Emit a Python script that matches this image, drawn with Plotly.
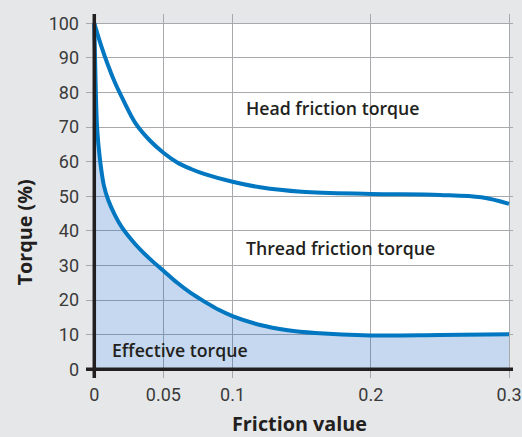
import plotly.graph_objects as go

# Friction value (x) and torque (%) readings
head_x = [0, 0.005, 0.01, 0.015, 0.02, 0.03, 0.04, 0.05, 0.06, 0.07, 0.08, 0.1, 0.12, 0.15, 0.2, 0.25, 0.28, 0.3]
head_y = [100, 93.5, 87.8, 82.8, 78.6, 71.0, 66.2, 62.6, 59.8, 57.9, 56.4, 54.2, 52.6, 51.3, 50.7, 50.4, 49.7, 47.8]

thread_x = [0, 0.001, 0.002, 0.004, 0.007, 0.01, 0.015, 0.02, 0.03, 0.04, 0.05, 0.06, 0.07, 0.08, 0.09, 0.1, 0.12, 0.14, 0.16, 0.2, 0.25, 0.3]
thread_y = [100, 82, 70, 61, 53, 49, 44.5, 41, 36, 32, 28.5, 25, 22, 19.5, 17.2, 15.4, 12.8, 11.3, 10.5, 9.8, 9.9, 10.1]

x_ticks = [0, 0.05, 0.1, 0.2, 0.3]
x_tick_labels = ["0", "0.05", "0.1", "0.2", "0.3"]
y_ticks = [0, 10, 20, 30, 40, 50, 60, 70, 80, 90, 100]

labels = [
    ("Head friction torque", 0.1086, 75.5),
    ("Thread friction torque", 0.1086, 35.0),
    ("Effective torque", 0.0115, 5.6),
]

BLUE = "#0077c0"
GRID = "#a7a9ac"
BG = "#e6e7e8"
DARK = "#231f20"
FONT = "Roboto"
LABEL_FONT = "Open Sans"

fig = go.Figure()
fig.add_trace(go.Scatter(
    x=thread_x, y=thread_y, mode="lines", fill="tozeroy",
    fillcolor="rgba(23,99,191,0.25)",
    line=dict(color=BLUE, width=4, shape="spline", smoothing=1.0),
    hoverinfo="skip", showlegend=False))
fig.add_trace(go.Scatter(
    x=head_x, y=head_y, mode="lines",
    line=dict(color=BLUE, width=4, shape="spline", smoothing=1.0),
    hoverinfo="skip", showlegend=False))

for txt, x, y in labels:
    fig.add_annotation(x=x, y=y, text=txt, showarrow=False, xanchor="left", yanchor="middle",
                       font=dict(family=LABEL_FONT, size=17.7, color=DARK, weight=600))

# axis titles
fig.add_annotation(xref="paper", yref="paper", x=0.5, y=-0.125, text="<b>Friction value</b>",
                   showarrow=False, xanchor="center", yanchor="middle",
                   font=dict(family=LABEL_FONT, size=19.8, color=DARK))
fig.add_annotation(xref="paper", yref="paper", x=-0.145, y=0.40, text="<b>Torque (%)</b>",
                   textangle=-90, showarrow=False, xanchor="center", yanchor="middle",
                   font=dict(family=LABEL_FONT, size=19.8, color=DARK))

# white plotting region
fig.add_shape(type="rect", x0=0, x1=0.3, y0=0, y1=100, xref="x", yref="y",
              fillcolor="white", line=dict(width=0), layer="below")
# axis lines at zero
fig.add_shape(type="line", x0=0, x1=0, y0=0, y1=1, xref="x", yref="paper",
              line=dict(color=DARK, width=3.5), layer="above")
fig.add_shape(type="line", x0=0, x1=1, y0=0, y1=0, xref="paper", yref="y",
              line=dict(color=DARK, width=3.5), layer="above")

fig.update_xaxes(range=[-0.0060, 0.30289], tickvals=x_ticks, ticktext=x_tick_labels,
                 showgrid=True, gridcolor=GRID, gridwidth=1.3, zeroline=False,
                 showline=False, ticks="", ticklabelstandoff=4, automargin=False,
                 tickfont=dict(family=FONT, size=18, color="#3a3a3a"))
fig.update_yaxes(range=[-2.51, 102.69], tickvals=y_ticks,
                 showgrid=True, gridcolor=GRID, gridwidth=1.3, zeroline=False,
                 showline=False, ticks="", ticklabelstandoff=6, automargin=False,
                 tickfont=dict(family=FONT, size=18, color="#3a3a3a"))

fig.update_layout(width=522, height=437, margin=dict(l=86, r=9, t=14, b=59),
                  paper_bgcolor=BG, plot_bgcolor=BG, showlegend=False)

fig.write_html("out.html", config={"displayModeBar": False},
               post_script="document.body.style.margin='0';")
